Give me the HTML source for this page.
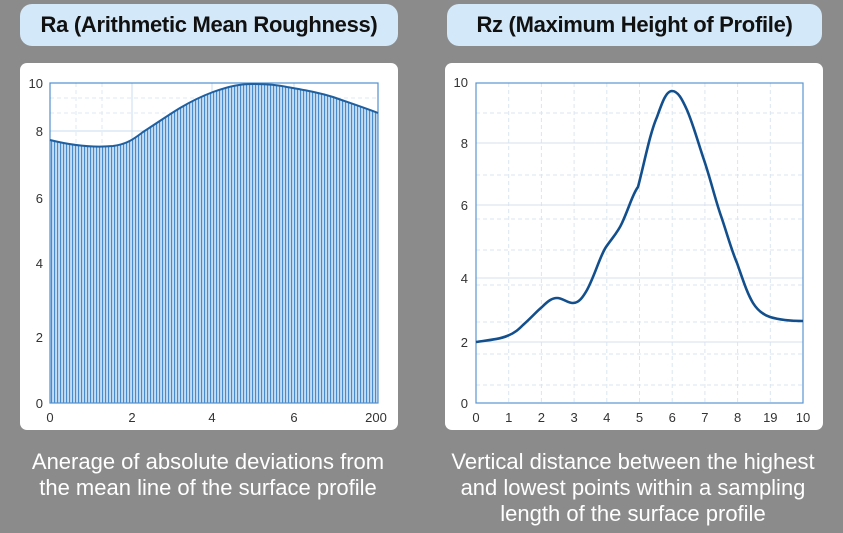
<!DOCTYPE html>
<html><head><meta charset="utf-8"><style>
html,body{margin:0;padding:0}
body{width:843px;height:533px;background:#8b8b8b;position:relative;overflow:hidden;font-family:"Liberation Sans",sans-serif}
.pill{position:absolute;top:4px;height:42px;background:#d3e8f8;border-radius:12px;text-align:center;line-height:42px;font-size:22px;font-weight:bold;color:#111;letter-spacing:-0.3px}
.card{position:absolute;top:63px;height:367px;background:#fff;border-radius:7px}
.cap{position:absolute;color:#fff;font-family:"Liberation Sans Narrow","Liberation Sans",sans-serif;font-size:22px;line-height:26px;text-align:center}
</style></head><body>
<div class="pill" style="left:20px;width:378px">Ra (Arithmetic Mean Roughness)</div>
<div class="pill" style="left:447px;width:375px">Rz (Maximum Height of Profile)</div>
<div class="card" style="left:20px;width:378px"></div>
<div class="card" style="left:445px;width:378px"></div>
<svg width="843" height="533" style="position:absolute;left:0;top:0" font-family="Liberation Sans, sans-serif" font-size="13" fill="#333">
<defs>
<pattern id="st" width="3" height="10" patternUnits="userSpaceOnUse">
<rect width="3" height="10" fill="#c4dcf2"/>
<rect width="1.1" height="10" fill="#4a8ccb"/>
</pattern>
<clipPath id="cl"><path d="M50,140 C70,145 90,148 113,146 C128,144 135,138 143,132 C160,121 170,114 180,108 C195,99 205,95 213,92 C230,86 240,84 253,84 C270,84 278,85 287,87 C310,91 320,93 333,97 C350,103 365,108 378,113 L378,403 L50,403 Z"/></clipPath>
</defs>
<g stroke="#c9dcef" stroke-width="1">
<line x1="50" y1="131" x2="378" y2="131"/><line x1="50" y1="198" x2="378" y2="198"/><line x1="50" y1="263" x2="378" y2="263"/><line x1="50" y1="337" x2="378" y2="337"/>
<line x1="132" y1="83" x2="132" y2="403"/><line x1="212" y1="83" x2="212" y2="403"/><line x1="294" y1="83" x2="294" y2="403"/>
</g>
<g stroke="#dde8f3" stroke-dasharray="4,3"><line x1="50" y1="98" x2="378" y2="98"/><line x1="50" y1="113" x2="378" y2="113"/><line x1="76" y1="83" x2="76" y2="403"/><line x1="102" y1="83" x2="102" y2="403"/></g>
<rect x="50" y="83" width="328" height="320" fill="url(#st)" clip-path="url(#cl)"/>
<rect x="50" y="83" width="328" height="320" fill="none" stroke="#4f8fcf" stroke-width="1.2"/>
<path d="M50,140 C70,145 90,148 113,146 C128,144 135,138 143,132 C160,121 170,114 180,108 C195,99 205,95 213,92 C230,86 240,84 253,84 C270,84 278,85 287,87 C310,91 320,93 333,97 C350,103 365,108 378,113" fill="none" stroke="#1f5f9f" stroke-width="2"/>
<g text-anchor="end"><text x="43" y="88">10</text><text x="43" y="136">8</text><text x="43" y="203">6</text><text x="43" y="268">4</text><text x="43" y="342">2</text><text x="43" y="408">0</text></g>
<g text-anchor="middle"><text x="50" y="422">0</text><text x="132" y="422">2</text><text x="212" y="422">4</text><text x="294" y="422">6</text><text x="376" y="422">200</text></g>
<g stroke="#dbe6f1" stroke-dasharray="4,3">
<line x1="476" y1="113" x2="803" y2="113"/><line x1="476" y1="175" x2="803" y2="175"/><line x1="476" y1="219" x2="803" y2="219"/><line x1="476" y1="250" x2="803" y2="250"/><line x1="476" y1="285" x2="803" y2="285"/><line x1="476" y1="322" x2="803" y2="322"/><line x1="476" y1="354" x2="803" y2="354"/><line x1="476" y1="385" x2="803" y2="385"/>
<line x1="508.7" y1="83" x2="508.7" y2="403"/><line x1="541.4" y1="83" x2="541.4" y2="403"/><line x1="574.1" y1="83" x2="574.1" y2="403"/><line x1="606.8" y1="83" x2="606.8" y2="403"/><line x1="639.5" y1="83" x2="639.5" y2="403"/><line x1="672.2" y1="83" x2="672.2" y2="403"/><line x1="704.9" y1="83" x2="704.9" y2="403"/><line x1="737.6" y1="83" x2="737.6" y2="403"/><line x1="770.3" y1="83" x2="770.3" y2="403"/>
</g>
<g stroke="#d6e2ee"><line x1="476" y1="143" x2="803" y2="143"/><line x1="476" y1="205" x2="803" y2="205"/><line x1="476" y1="278" x2="803" y2="278"/><line x1="476" y1="342" x2="803" y2="342"/></g>
<rect x="476" y="83" width="327" height="320" fill="none" stroke="#5a96d2" stroke-width="1.2"/>
<path d="M476,342 C490,340 500,339 507,336 C515,333 519,329 523,325 C532,317 537,311 542,307 C548,301 552,298 557,298 C563,298 567,303 573,303 C579,303 583,297 587,290 C595,275 600,256 606,247 C613,237 618,232 622,223 C629,208 633,193 638,187 C645,160 650,133 657,117 C662,103 666,91 672,91 C678,91 682,99 687,110 C693,124 698,142 703,157 C710,177 714,195 720,213 C727,233 731,249 737,263 C743,280 747,293 753,303 C758,311 764,315 770,317 C780,320 790,321 803,321" fill="none" stroke="#124f8c" stroke-width="2.6"/>
<g text-anchor="end"><text x="468" y="87">10</text><text x="468" y="148">8</text><text x="468" y="210">6</text><text x="468" y="283">4</text><text x="468" y="347">2</text><text x="468" y="408">0</text></g>
<g text-anchor="middle"><text x="476" y="422">0</text><text x="508.7" y="422">1</text><text x="541.4" y="422">2</text><text x="574.1" y="422">3</text><text x="606.8" y="422">4</text><text x="639.5" y="422">5</text><text x="672.2" y="422">6</text><text x="704.9" y="422">7</text><text x="737.6" y="422">8</text><text x="770.3" y="422">19</text><text x="803" y="422">10</text></g>
</svg>
<div class="cap" style="left:10px;width:396px;top:449px">Anerage of absolute deviations from<br>the mean line of the surface profile</div>
<div class="cap" style="left:435px;width:396px;top:449px">Vertical distance between the highest<br>and lowest points within a sampling<br>length of the surface profile</div>
</body></html>
